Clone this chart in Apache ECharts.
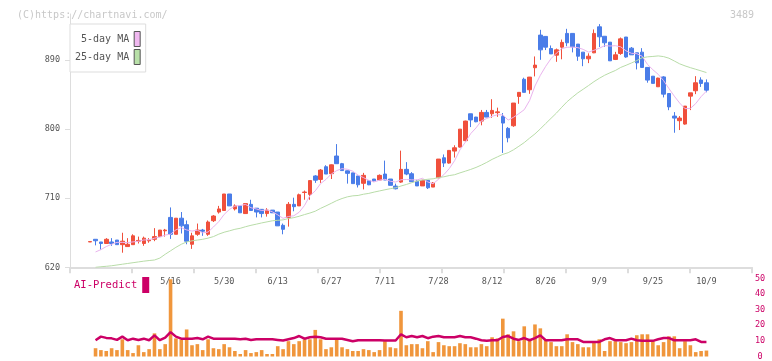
<!DOCTYPE html>
<html><head><meta charset="utf-8">
<script src="https://cdn.jsdelivr.net/npm/echarts@6/dist/echarts.min.js"></script>
<style>html,body{margin:0;padding:0;background:#fff}#c{width:772px;height:361px}</style>
</head><body><div id="c"></div>
<script>
// x-axis tick labels (every 10 trading days, first at candle index 15)
const tickLabels = ['5/16','5/30','6/13','6/27','7/11','7/28','8/12','8/26','9/9','9/25','10/9'];
const firstLabelIndex = 15;
const labelStep = 10;
const slotCount = 124;

const opens = [653,656.5,653,651,653,655.5,649.5,647,649.5,654,651,654.5,656.5,660,667.5,685,663,684,675.5,650,663,668.5,663,680.7,692,694,715.5,696,700,690,
702,697,695.5,690,694.5,692,674.7,685,702,700,717.5,715,739,734.5,751,742,765,755,745.7,743,739,729.4,732.7,735,733.7,741.5,735,725.8,731,747.6,
741.9,732,726,733.3,724.5,736.7,762.7,755.8,771.4,776.6,785,820,815.7,810.5,821.8,820,821.5,816.6,801,804.4,842.6,865,851.3,880,922.5,920.8,905,896.4,906.8,924.7,
924.7,910.8,900.3,891.6,899.4,933.3,921,913.3,890.8,898.6,920,905.5,899.4,900.3,880.4,869,855.2,868,846.4,817,811,806.6,843,850,864,860.4];
const closes = [653.5,654.6,651,656.5,651,649.5,654,650,661,655,658,655.5,660,668.5,668.5,663,684,674,654,661,668.5,667,679,686.8,696,715.5,700,700,691,703,
694,692,690,694.5,691,674,669.5,702,699,714.5,718,733,733.5,746.7,741.5,753.5,755,746,742.4,729,727.5,739.8,727.5,732.7,739.8,733.7,726.8,722.3,747.6,741.5,
731.5,726,733.3,723.6,729.7,761,755.8,772.3,775.7,800,810.5,812,809.6,821.8,815.7,824.4,822.5,807.9,788.7,834,847.9,847.9,867.8,883.4,903.3,906.8,898,903.3,913,912.5,
907.3,895,891.6,895,924.7,920.3,912.5,889,896.8,917.6,894,896.8,886.4,880.4,863.9,859.6,866.5,845.6,829,814.4,814.4,830,847.3,860.4,859.5,850.8];
const lows = [653,648.6,643,651,648,649.5,639,647,649.5,651,648,652,654,660,660,657,663,664,650,644,661,661,661,679,690,694,700,694,691,690,
694,685,685,686,691,674,663,673,693,700,708,708,730,730,741.5,735,755,746,729,729,724,721.5,727,731,733.7,733.7,726.8,721.5,730,740,
731.5,726,726,722,724.5,736,750.6,755,763,776,784,802.7,809,805,815.7,814.8,816,769,782.8,803,833,847.9,846,868.7,890.3,903,898,887.7,891,908,
900,889,882,886,899,907,907.3,889,890,896.8,893,896.8,877.8,880.4,860.5,859.6,855,841.3,824.7,795.3,798.8,805.8,824.8,845.6,855,848];
const highs = [653.5,656.5,653,658,658,655.5,665,658,663,660,660,658,671,668.5,670,698,684,692,681,665,677,670,681,688,700,715.5,715.5,702,700,703,
708,697,695.5,697,694.5,692,677,705,710.7,716,720,733,740,748,753,754,780.5,756,746,743,739,743,733,735,741,759,735,729,772,757,
744,734,734,733.3,731,761,767,772.3,779,800,811,820,816,825,825,839,828,821,802.7,834,848,867,868,894.7,929.4,921,909,905,916.7,930.7,
924.7,910.8,900.3,898.8,929.9,936.8,921,913.3,900.7,919.4,920,907,899.4,905.5,880.4,869,867,869,846.4,822.2,817,830,847.3,869,867.5,864.8];

const ma5 = [null,640,643,647,650,652.5,652.4,652.2,653.1,653.9,655.6,655.9,657.9,659.4,662.1,663.1,668.8,671.6,668.7,667.2,668.3,664.9,665.9,672.5,679.5,688.9,695.5,699.7,700.5,701.9,
697.6,696,694,694.7,692.3,688.3,683.8,686.2,687.1,691.8,700.6,713.3,719.6,729.1,734.5,741.6,746,748.5,747.7,745.2,740,736.9,733.2,731.3,733.5,734.7,732.1,731.1,734,734.4,
733.9,733.8,736,731.2,728.8,734.7,740.7,748.5,758.9,773,782.9,794.1,801.6,810.8,813.9,816.7,818.8,818.5,811.8,815.5,820.2,825.3,837.3,856.2,870.1,881.8,891.9,899,904.9,906.7,
906.8,906.2,903.9,900.3,902.7,905.3,908.8,908.3,908.7,907.2,902,898.8,898.3,895,884.3,877.4,871.4,863.2,852.9,843,834,826.7,827,833.3,842.3,849.6];
const ma25 = [null,620,620.7,621.3,622,623,624,625,626,627,628,628.8,629.5,632,637,641.5,646,650,653,654.5,655.5,656.5,658,660,663.2,665.7,667.5,669.5,670.8,672.9,
674.7,676.2,677.8,679.2,680.6,681.2,681.8,683.5,684.7,686.5,688.7,690.7,693.1,696.8,700,703.4,706.9,709.6,711.8,713.1,713.6,715.2,716.3,718,719.5,721,722.4,723.7,725.9,727.9,
730.2,732.4,733.7,734.7,735.3,737,737.9,739.5,740.6,743,745.2,747.5,750.1,753.2,756.7,760.6,763.9,767.1,769.3,773.1,777.7,782.5,788.3,793.8,800.3,807.3,814.1,820.9,828.5,835.8,
841.7,847.3,852,856.8,861.8,866.2,870.2,873.4,876.4,880.4,883.2,886.2,889.3,893,894.2,894.7,895.4,894.5,892.4,888.8,885.1,882.4,880.1,878,875.9,873.7];

const volume = [null,5.3,4.1,3.5,5.3,4.1,11,4.1,2.2,7.2,2.8,4.7,14.8,4.7,7.9,49.4,11.6,11,17.3,7.2,7.9,4.1,11,5.3,4.7,7.9,5.9,3.5,1.6,4.1,
2.2,2.8,4.1,1.6,1.6,6.6,4.7,9.8,7.9,9.8,11,11,17,11,4.7,5.9,11,5.9,4.7,3.5,3.5,4.7,4.1,2.8,4.1,9.8,5.9,5.3,29.2,7.2,
7.9,7.9,5.3,9.8,2.8,9.2,7.2,6.6,6.6,8.5,7.9,5.9,5.9,7.9,6.6,12.3,11.6,24.2,14.2,16.1,9.8,19.3,11,20.5,18,11,9.2,6.6,6.6,14.2,
9.2,7.9,5.9,5.9,9.8,11,3.5,9.8,9.8,9.2,8.5,9.2,13.6,14.2,14.2,9.8,7.2,9.2,12.9,12.9,5.3,9.8,7.2,2.8,3.5,3.8];
const aiPredict = [null,10.4,12.7,11.9,11.6,10.6,12.7,10.4,11.4,10.6,11.4,10.4,13.5,10.4,12,15.6,12.7,11.4,11.4,11.4,11.8,11,12.7,11.4,11.4,11.4,11.4,11.4,11,11.4,
10.6,11,11,11,11,10.6,10.2,11,11.8,13.1,11.4,12.3,12.7,12.3,11.4,11.4,11.4,11.4,10.6,9.7,10.4,10.4,10.4,10.4,10.4,10.2,10.2,10.2,14.2,12.3,
13.1,12.3,13.1,11.7,12.7,13.1,12.3,12.3,12.3,13.1,12.3,12.3,11.4,10.4,10,10.4,10.4,12.5,13.1,11.4,10.6,11.8,10.4,11.8,13.5,10.4,10.4,10.4,10.4,11,
11,11,9.3,9.3,9.3,9.3,11,11.8,10.4,10.4,10.4,11.4,10.4,10,10,10,11,11.8,11.8,10.4,10.4,10.4,10.4,11,9.3,9.3];

const categories = [];
for (let i = 0; i < slotCount; i++) {
  const k = (i - firstLabelIndex) / labelStep;
  categories.push(Number.isInteger(k) && k >= 0 && k < tickLabels.length ? tickLabels[k] : '');
}
const candles = opens.map((o, i) => [o, closes[i], lows[i], highs[i]]);

const MONO = 'DejaVu Sans Mono';
const UP = '#f0503c', DOWN = '#4a7de8';
const chart = echarts.init(document.getElementById('c'), null, {renderer: 'canvas'});
chart.setOption({
  animation: false,
  backgroundColor: '#fff',
  title: [
    {text: '(C)https://chartnavi.com/', left: 12, top: 5, textStyle: {fontFamily: MONO, fontSize: 10, fontWeight: 'normal', color: '#c8c8c8'}},
    {text: '3489', right: 13, top: 5, textStyle: {fontFamily: MONO, fontSize: 10, fontWeight: 'normal', color: '#c8c8c8'}}
  ],
  legend: [
    {data: [{name: '5-day MA', itemStyle: {color: '#f0b8f0'}}, {name: '25-day MA', itemStyle: {color: '#b8e0a8'}}],
     orient: 'vertical', left: 70, top: 24, align: 'right', icon: 'rect', itemWidth: 6, itemHeight: 15, itemGap: 2,
     padding: [7, 5, 7, 5], borderColor: '#ddd', borderWidth: 1, backgroundColor: '#fff', selectedMode: false,
     itemStyle: {borderColor: '#555', borderWidth: 1},
     textStyle: {fontFamily: MONO, fontSize: 10, color: '#555'}},
    {data: [{name: 'AI-Predict', itemStyle: {color: '#cc0066'}}], left: 74, top: 277, align: 'right', icon: 'rect',
     itemWidth: 7, itemHeight: 16, padding: 0, selectedMode: false,
     textStyle: {fontFamily: MONO, fontSize: 10.5, color: '#cc0066'}}
  ],
  grid: [
    {left: 70, right: 20, top: 14, bottom: 93.7},
    {left: 87.5, right: 20, top: 14, bottom: 93.7},
    {left: 87.5, right: 20, top: 278.3, bottom: 3.5}
  ],
  xAxis: [
    {gridIndex: 0, type: 'value', min: 0, max: 11, interval: 1,
     axisLine: {lineStyle: {color: '#dddddd', width: 2}}, axisTick: {length: 6, lineStyle: {color: '#dddddd', width: 2}},
     axisLabel: {show: false}, splitLine: {show: false}},
    {gridIndex: 1, type: 'category', data: categories, boundaryGap: true,
     axisLine: {show: false}, axisTick: {show: false}, splitLine: {show: false},
     axisLabel: {interval: 0, margin: 10, fontFamily: MONO, fontSize: 8.5, color: '#555'}},
    {gridIndex: 2, type: 'category', data: categories, boundaryGap: true, show: false}
  ],
  yAxis: [
    {gridIndex: 0, type: 'value', min: 620, max: 950, interval: 90,
     axisLine: {show: true, lineStyle: {color: '#dddddd', width: 1}}, axisTick: {show: true, length: 5, lineStyle: {color: '#dddddd'}},
     axisLabel: {margin: 10, fontFamily: MONO, fontSize: 8.5, color: '#555', showMaxLabel: false}, splitLine: {show: false}},
    {gridIndex: 1, type: 'value', min: 620, max: 950, show: false, splitLine: {show: false}},
    {gridIndex: 2, type: 'value', position: 'right', min: 0, max: 50, interval: 10,
     axisLine: {show: false}, axisTick: {show: false}, splitLine: {show: false},
     axisLabel: {margin: 8, align: 'center', fontFamily: MONO, fontSize: 8.5, color: '#cc0066'}}
  ],
  series: [
    {type: 'candlestick', name: 'price', xAxisIndex: 1, yAxisIndex: 1, data: candles, barWidth: 4,
     itemStyle: {color: UP, color0: DOWN, borderColor: UP, borderColor0: DOWN, borderWidth: 1}},
    {type: 'line', name: '5-day MA', xAxisIndex: 1, yAxisIndex: 1, data: ma5, symbol: 'none',
     lineStyle: {color: '#eab4ee', width: 1}, itemStyle: {color: '#f0b8f0'}},
    {type: 'line', name: '25-day MA', xAxisIndex: 1, yAxisIndex: 1, data: ma25, symbol: 'none',
     lineStyle: {color: '#b8dca8', width: 1}, itemStyle: {color: '#b8e0a8'}},
    {type: 'bar', name: 'volume', xAxisIndex: 2, yAxisIndex: 2, data: volume, barWidth: 3.6,
     itemStyle: {color: '#f0963c'}},
    {type: 'line', name: 'AI-Predict', xAxisIndex: 2, yAxisIndex: 2, data: aiPredict, symbol: 'none',
     lineStyle: {color: '#cc0066', width: 2.5}, itemStyle: {color: '#cc0066'}}
  ]
});
</script></body></html>
